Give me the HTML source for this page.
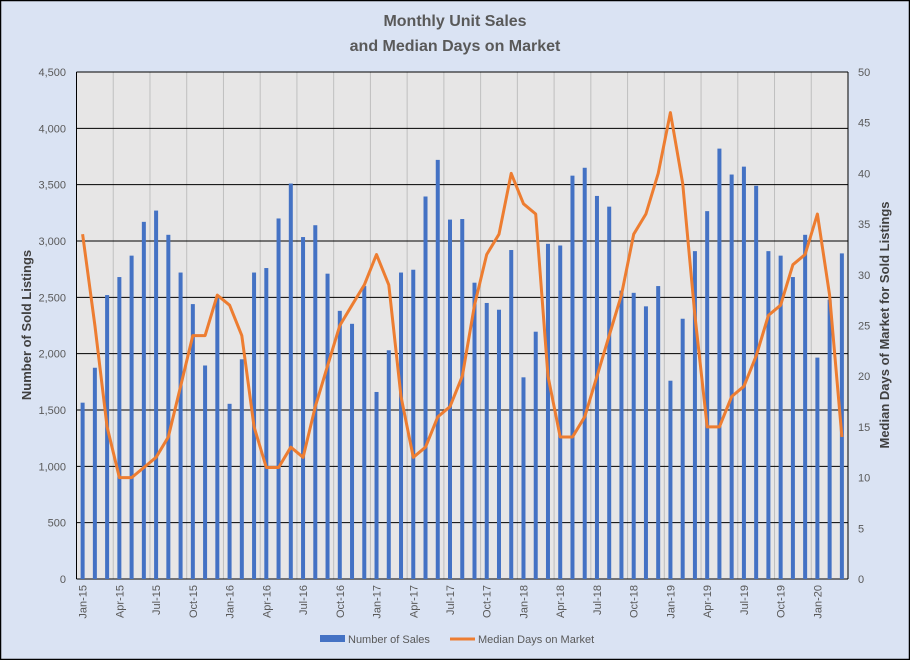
<!DOCTYPE html>
<html><head><meta charset="utf-8"><style>
html,body{margin:0;padding:0;background:#dae3f3;}
svg{display:block;font-family:"Liberation Sans",Arial,sans-serif;}
</style></head><body>
<svg id="c" width="910" height="660" xmlns="http://www.w3.org/2000/svg">
<rect x="0.5" y="0.5" width="909" height="659" fill="#dae3f3" stroke="#000" stroke-width="1.5"/>
<text x="455" y="26" text-anchor="middle" font-size="16" font-weight="bold" fill="#595959">Monthly Unit Sales</text>
<text x="455" y="51" text-anchor="middle" font-size="16" font-weight="bold" fill="#595959">and Median Days on Market</text>
<rect x="76.5" y="72" width="771.5" height="507" fill="#e7e6e6"/>
<g id="g"></g>
<text transform="translate(31,325) rotate(-90)" text-anchor="middle" font-size="13" font-weight="bold" fill="#404040">Number of Sold Listings</text>
<text transform="translate(889,325) rotate(-90)" text-anchor="middle" font-size="13" font-weight="bold" fill="#404040">Median Days of Market for Sold Listings</text>
<rect x="320" y="635" width="25" height="7" fill="#4472c4"/>
<text x="348" y="643" font-size="11" fill="#595959">Number of Sales</text>
<line x1="450" y1="639" x2="475" y2="639" stroke="#ed7d31" stroke-width="3"/>
<text x="478" y="643" font-size="11" fill="#595959">Median Days on Market</text>
</svg>
<script>
var sales=[1565,1875,2520,2680,2870,3170,3270,3055,2720,2440,1895,2500,1555,1950,2720,2760,3200,3510,3035,3140,2710,2380,2265,2600,1660,2030,2720,2745,3395,3720,3190,3195,2630,2450,2390,2920,1790,2195,2975,2960,3580,3650,3400,3305,2560,2540,2420,2600,1760,2310,2910,3265,3820,3590,3660,3490,2910,2870,2680,3055,1965,2480,2890];
var days=[34,25,15,10,10,11,12,14,19,24,24,28,27,24,15,11,11,13,12,17,21,25,27,29,32,29,18,12,13,16,17,20,27,32,34,40,37,36,20,14,14,16,20,24,28,34,36,40,46,39,26,15,15,18,19,22,26,27,31,32,36,28,14];
var L=76.5,R=848,T=72,B=579,H=B-T,W=(R-L)/63;
var s='';
var mon=['Jan','Apr','Jul','Oct'];
for(var i=3;i<63;i+=3){var x=L+i*W;s+='<line x1="'+x+'" y1="'+T+'" x2="'+x+'" y2="'+B+'" stroke="#bfbfbf" stroke-width="1"/>';}
for(var k=0;k<=9;k++){var y=B-k*H/9;s+='<line x1="'+L+'" y1="'+y+'" x2="'+R+'" y2="'+y+'" stroke="#000" stroke-width="1"/>';
s+='<text x="66" y="'+(y+4)+'" text-anchor="end" font-size="11" fill="#595959">'+(k*500).toLocaleString('en-US')+'</text>';}
for(var k=0;k<=10;k++){var y=B-k*H/10;s+='<text x="858" y="'+(y+4)+'" font-size="11" fill="#595959">'+(k*5)+'</text>';}
s+='<line x1="'+L+'" y1="'+T+'" x2="'+L+'" y2="'+B+'" stroke="#000"/>';
s+='<line x1="'+R+'" y1="'+T+'" x2="'+R+'" y2="'+B+'" stroke="#000"/>';
for(var i=0;i<63;i++){var cx=L+(i+0.5)*W,h=sales[i]/4500*H;s+='<rect x="'+(cx-2)+'" y="'+(B-h)+'" width="4" height="'+h+'" fill="#4472c4"/>';}
var p='';for(var i=0;i<63;i++){var cx=L+(i+0.5)*W,y=B-days[i]/50*H;p+=(i?'L':'M')+cx.toFixed(1)+' '+y.toFixed(1);}
s+='<path d="'+p+'" fill="none" stroke="#ed7d31" stroke-width="3" stroke-linejoin="round"/>';
for(var i=0;i<63;i+=3){var cx=L+(i+0.5)*W;var yr=15+Math.floor(i/12);var lab=mon[(i%12)/3]+'-'+yr;
s+='<text transform="translate('+(cx+4)+',585) rotate(-90)" text-anchor="end" font-size="11" fill="#595959">'+lab+'</text>';}
document.getElementById('g').innerHTML=s;
</script>
</body></html>
